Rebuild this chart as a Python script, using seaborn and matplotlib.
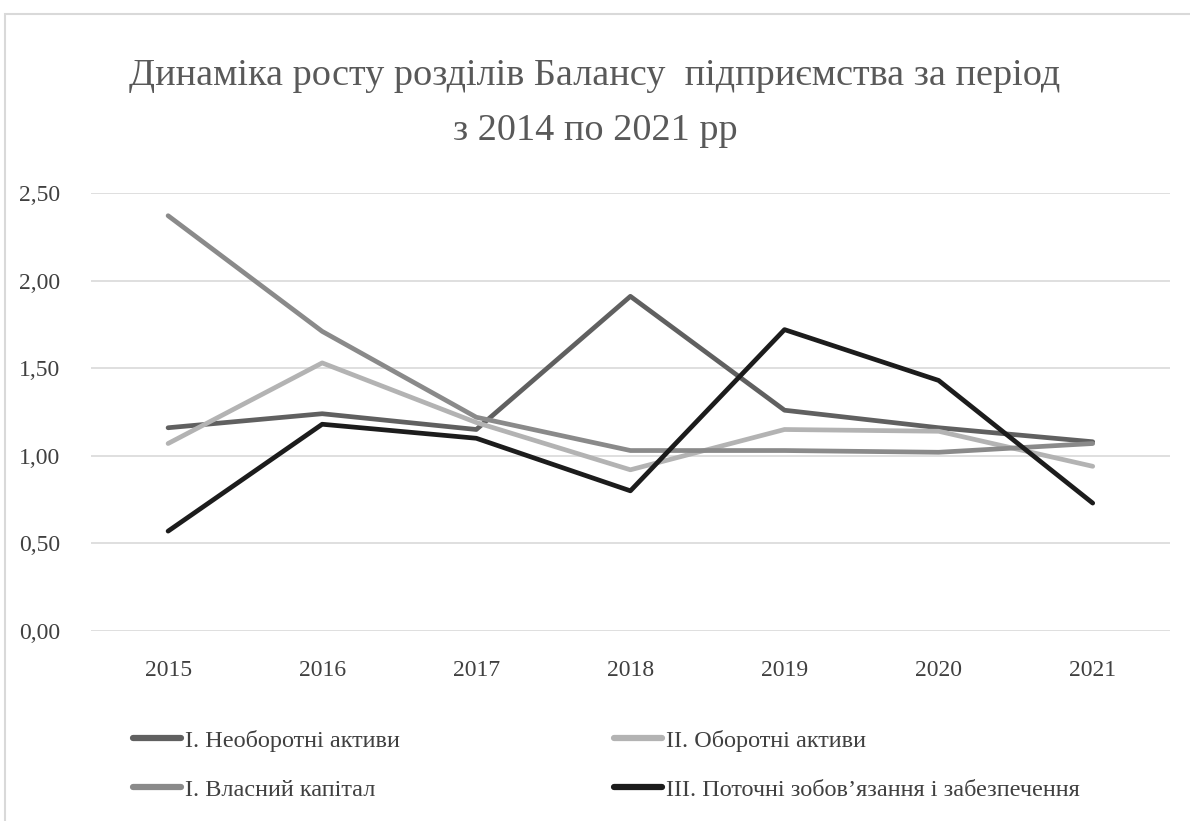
import matplotlib
matplotlib.use("Agg")
import matplotlib.pyplot as plt
from matplotlib.patches import Rectangle
import seaborn as sns
import pandas as pd

years = [2015, 2016, 2017, 2018, 2019, 2020, 2021]
non_current_assets = [1.16, 1.24, 1.15, 1.91, 1.26, 1.16, 1.08]
current_assets = [1.07, 1.53, 1.19, 0.92, 1.15, 1.14, 0.94]
equity = [2.37, 1.71, 1.22, 1.03, 1.03, 1.02, 1.07]
current_liabilities = [0.57, 1.18, 1.10, 0.80, 1.72, 1.43, 0.73]

names = [
    "I. Необоротні активи",
    "II. Оборотні активи",
    "I. Власний капітал",
    "III. Поточні зобов’язання і забезпечення",
]
colors = ["#606060", "#b3b3b3", "#8a8a8a", "#1c1c1c"]
yticks = [0.0, 0.5, 1.0, 1.5, 2.0, 2.5]

frames = []
for name, vals in zip(names, [non_current_assets, current_assets, equity, current_liabilities]):
    frames.append(pd.DataFrame({"year": years, "value": vals, "series": name}))
df = pd.concat(frames, ignore_index=True)

sns.set_theme(style="white")
plt.rcParams["font.family"] = ["Liberation Serif", "DejaVu Serif"]

fig = plt.figure(figsize=(11.9, 8.21), dpi=100)
ax = fig.add_axes([0.0765, 0.2314, 0.9065, 0.5336])

sns.lineplot(data=df, x="year", y="value", hue="series", hue_order=names,
             palette=dict(zip(names, colors)), linewidth=3.4, ax=ax,
             legend=False, sort=False)
for ln in ax.lines:
    ln.set_solid_capstyle("round")
    ln.set_solid_joinstyle("round")

ax.set_xlim(years[0] - 0.5, years[-1] + 0.5)
ax.set_ylim(0, 2.5)
ax.set_yticks(yticks)
ax.set_yticklabels([f"{v:.2f}".replace(".", ",") for v in yticks])
ax.set_xticks(years)
ax.set_xticklabels([str(y) for y in years])
ax.tick_params(axis="both", labelsize=17, colors="#404040", length=0)
ax.tick_params(axis="y", pad=22)
ax.tick_params(axis="x", pad=21)
ax.yaxis.grid(True, color="#d9d9d9", linewidth=1.2)
ax.xaxis.grid(False)
for s in ax.spines.values():
    s.set_visible(False)
ax.set_xlabel("")
ax.set_ylabel("")

fig.text(0.5, 0.908, "Динаміка росту розділів Балансу  підприємства за період",
         ha="center", va="center", fontsize=27.5, color="#595959")
fig.text(0.5, 0.841, "з 2014 по 2021 рр", ha="center", va="center",
         fontsize=27.5, color="#595959")

# legend: two rows, two columns
handles = [plt.Line2D([], [], color=c, linewidth=4.5, solid_capstyle="round") for c in colors]
order = [0, 2, 1, 3]
leg = fig.legend([handles[i] for i in order], [names[i] for i in order],
                 loc="center left", bbox_to_anchor=(0.093, 0.068), ncol=2,
                 frameon=False, fontsize=17.5, handlelength=2.0, handletextpad=0.15,
                 columnspacing=8.8, labelspacing=1.1)
for t in leg.get_texts():
    t.set_color("#404040")

fig.patches.append(Rectangle((0.004, -0.02), 1.1, 1.003,
                             transform=fig.transFigure, fill=False,
                             edgecolor="#d9d9d9", linewidth=1.5))
fig.savefig("out.png", dpi=100, facecolor="white")
